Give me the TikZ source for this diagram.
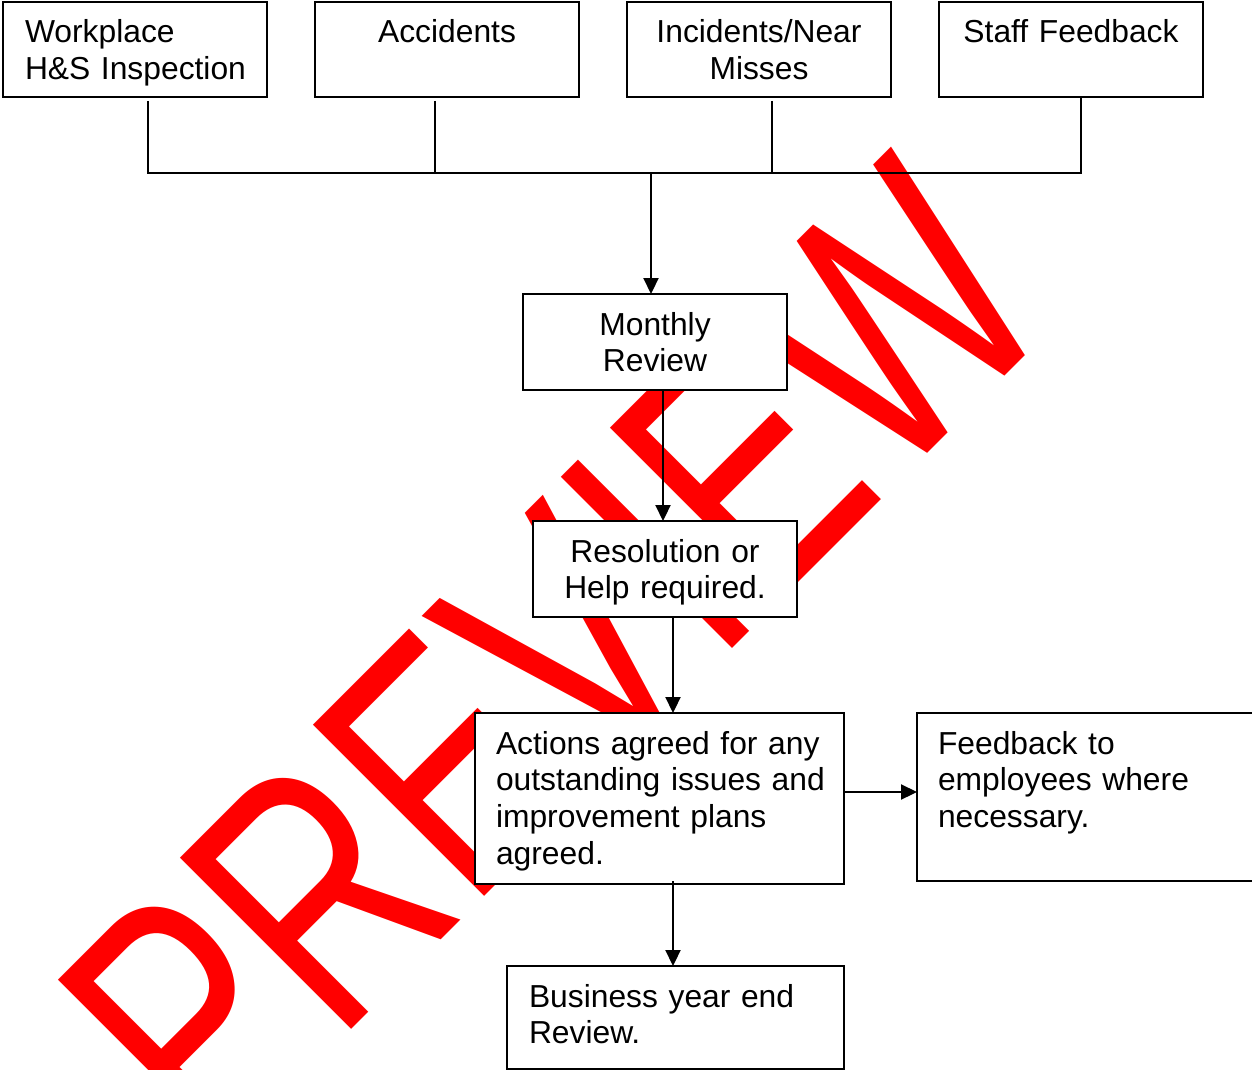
\documentclass[tikz,border=0pt]{standalone}
\usepackage{fontspec}
\setmainfont{Liberation Sans}
\newfontfamily\wmfont[FakeStretch=0.74]{Liberation Sans}
\usetikzlibrary{arrows.meta}
\begin{document}
\begin{tikzpicture}[x=1pt,y=-1pt,
  box/.style={draw=black, line width=2.2pt, fill=white, inner sep=0pt, outer sep=0pt, anchor=north west},
  lbl/.style={inner sep=0pt, outer sep=0pt, font=\fontsize{31.8}{36.8}\selectfont},
  lbll/.style={lbl, anchor=base west, text width=500pt, align=left},
  lblc/.style={lbl, anchor=base, text width=260pt, align=center},
  conn/.style={line width=2.2pt},
  arr/.style={line width=2.2pt, -{Triangle[length=16pt,width=15pt]}}]
\useasboundingbox[fill=white] (0,0) rectangle (1252,1070);
% watermark
\node[anchor=base west, inner sep=0pt, rotate=45, text=red] (wm) at (214,1167)
  {\wmfont\fontsize{352}{352}\selectfont PREVIEW};
% boxes
\node[box, minimum width=264pt, minimum height=95pt] (b1) at (3,2) {};
\node[box, minimum width=264pt, minimum height=95pt] (b2) at (315,2) {};
\node[box, minimum width=264pt, minimum height=95pt] (b3) at (627,2) {};
\node[box, minimum width=264pt, minimum height=95pt] (b4) at (939,2) {};
\node[box, minimum width=264pt, minimum height=96pt] (mr) at (523,294) {};
\node[box, minimum width=264pt, minimum height=96pt] (res) at (533,521) {};
\node[box, minimum width=369pt, minimum height=171pt] (act) at (475,713) {};
\node[box, minimum width=345pt, minimum height=168pt] (fb) at (917,713) {};
\node[box, minimum width=337pt, minimum height=103pt] (bye) at (507,966) {};
% texts
\node[lbll] (t1) at (25,43) {Workplace\\H\&S Inspection};
\node[lblc] (t2) at (447,43) {Accidents};
\node[lblc] (t3) at (759,43) {Incidents/Near\\Misses};
\node[lblc] (t4) at (1071,43) {Staff Feedback};
\node[lblc] (tm) at (655,335) {Monthly\\Review};
\node[lblc] (tr) at (665,562) {Resolution or\\Help required.};
\node[lbll, text width=340pt] (ta) at (496,754) {Actions agreed for any\\outstanding issues and\\improvement plans\\agreed.};
\node[lbll, text width=300pt] (tf) at (938,754) {Feedback to\\employees where\\necessary.};
\node[lbll, text width=300pt] (tb) at (529,1007) {Business year end\\Review.};
% connectors
\coordinate (bus) at (651,173);
\draw[conn] ([xshift=13pt,yshift=-4pt]b1.south) -- ([xshift=13pt]b1.south |- bus)
  -- ([xshift=10pt]b4.south |- bus) -- ([xshift=10pt]b4.south);
\draw[conn] ([xshift=-12pt,yshift=-4pt]b2.south) -- ([xshift=-12pt]b2.south |- bus);
\draw[conn] ([xshift=13pt,yshift=-4pt]b3.south) -- ([xshift=13pt]b3.south |- bus);
\draw[arr] (bus) -- (bus |- mr.north);
\draw[arr] ([xshift=8pt]mr.south) -- ([xshift=8pt]mr.south |- res.north);
\draw[arr] ([xshift=8pt]res.south) -- ([xshift=8pt]res.south |- act.north);
\draw[arr] ([xshift=8pt,yshift=3pt]res.south |- act.south) -- ([xshift=8pt]res.south |- bye.north);
\draw[arr] ([yshift=6.5pt]act.east) -- ([yshift=6.5pt]act.east -| fb.west);
\end{tikzpicture}
\end{document}
